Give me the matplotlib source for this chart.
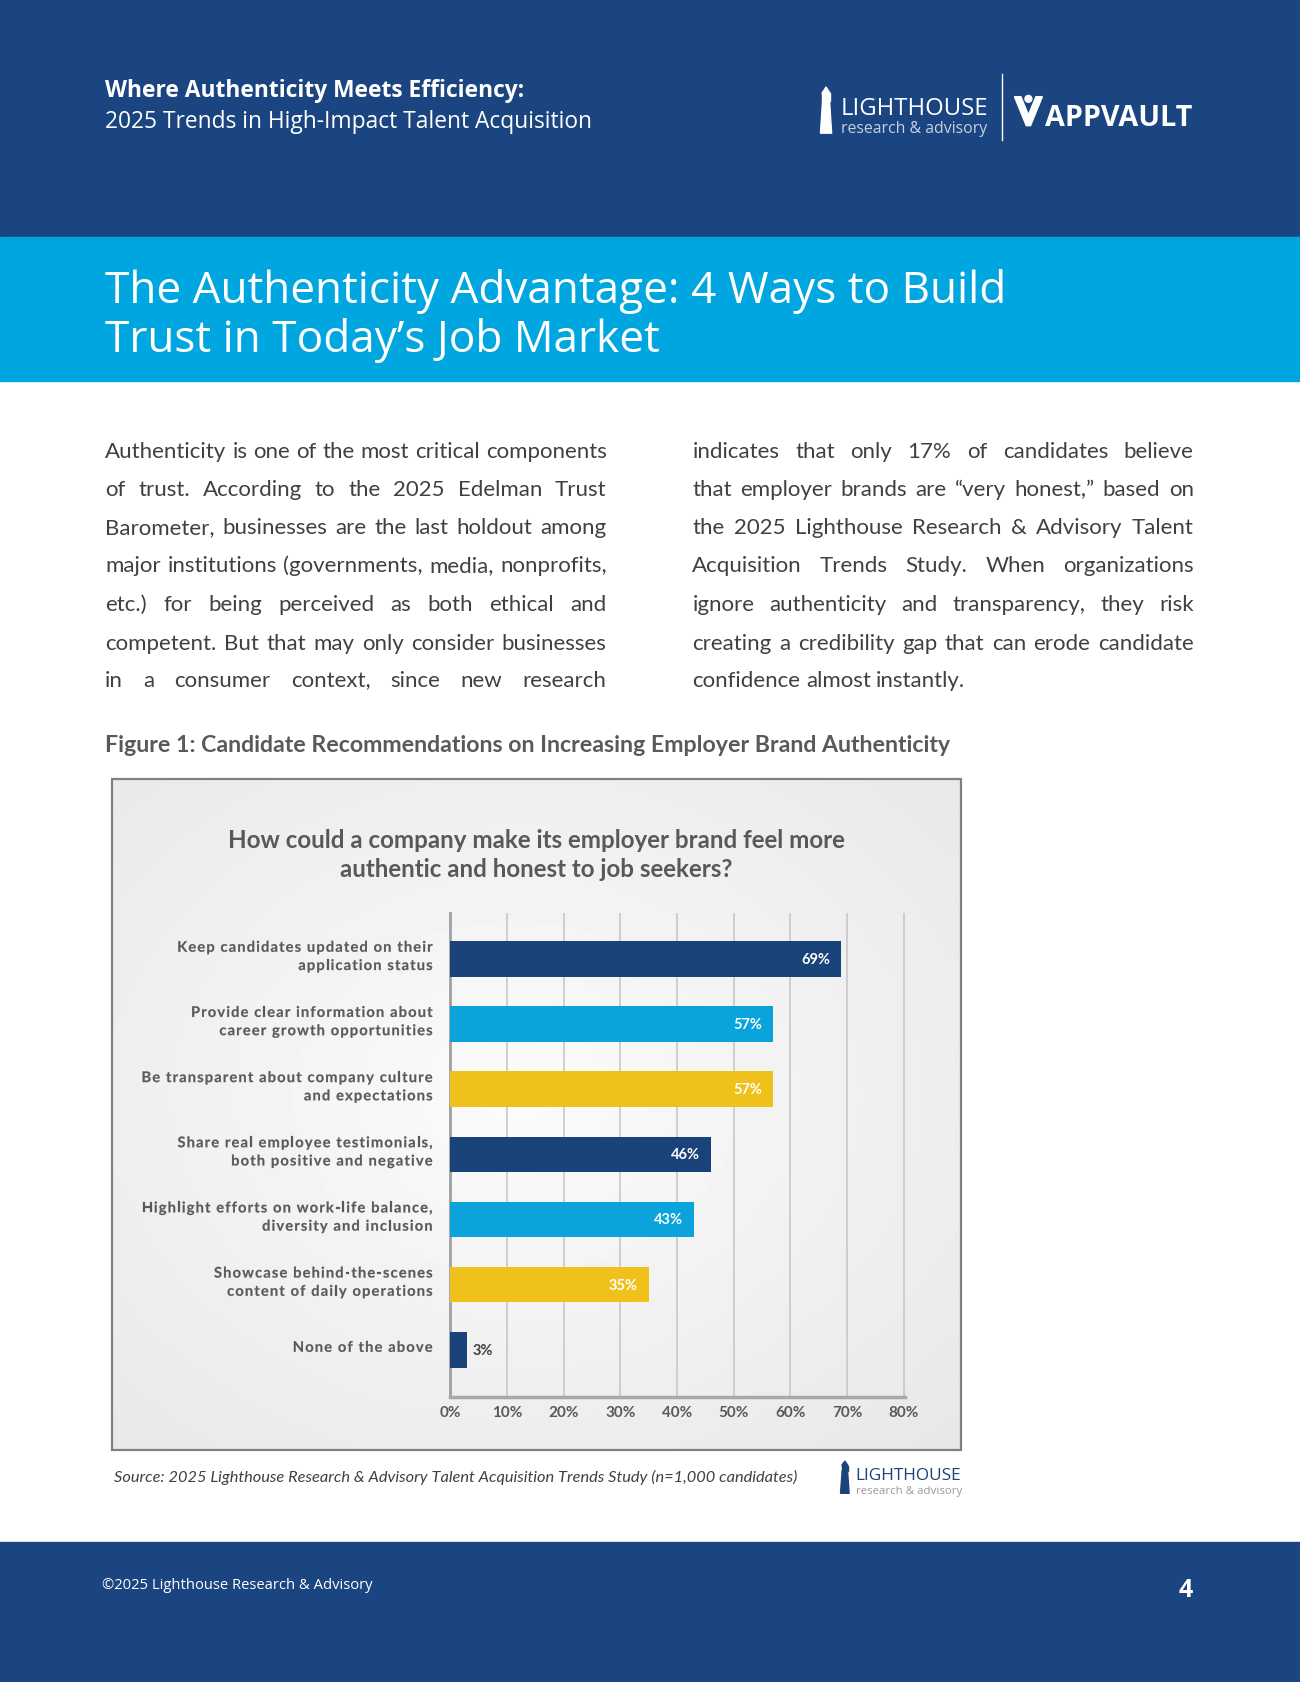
import numpy as np
import matplotlib
matplotlib.use("Agg")
import matplotlib.pyplot as plt
from matplotlib.patches import Rectangle, Polygon, Circle, PathPatch
from matplotlib.ft2font import FT2Font
from matplotlib.font_manager import findfont, FontProperties
from matplotlib.textpath import TextPath
from matplotlib.transforms import Affine2D

# ---------------- data ----------------
categories = [
    "Keep candidates updated on their\napplication status",
    "Provide clear information about\ncareer growth opportunities",
    "Be transparent about company culture\nand expectations",
    "Share real employee testimonials,\nboth positive and negative",
    "Highlight efforts on work-life balance,\ndiversity and inclusion",
    "Showcase behind-the-scenes\ncontent of daily operations",
    "None of the above",
]
values = [69, 57, 57, 46, 43, 35, 3]
value_labels = ["69%", "57%", "57%", "46%", "43%", "35%", "3%"]
xticks = [0, 10, 20, 30, 40, 50, 60, 70, 80]
xtick_labels = ["0%", "10%", "20%", "30%", "40%", "50%", "60%", "70%", "80%"]

NAVY = "#1a4379"
CYAN = "#0aa3dc"
YELLOW = "#f0c01b"
bar_colors = [NAVY, CYAN, YELLOW, NAVY, CYAN, YELLOW, NAVY]

chart_title = ["How could a company make its employer brand feel more",
               "authentic and honest to job seekers?"]
body_left = [
    "Authenticity is one of the most critical components",
    "of trust. According to the 2025 Edelman Trust",
    "Barometer, businesses are the last holdout among",
    "major institutions (governments, media, nonprofits,",
    "etc.) for being perceived as both ethical and",
    "competent. But that may only consider businesses",
    "in a consumer context, since new research",
]
body_right = [
    "indicates that only 17% of candidates believe",
    "that employer brands are \u201cvery honest,\u201d based on",
    "the 2025 Lighthouse Research & Advisory Talent",
    "Acquisition Trends Study. When organizations",
    "ignore authenticity and transparency, they risk",
    "creating a credibility gap that can erode candidate",
    "confidence almost instantly.",
]

# ---------------- figure ----------------
W, H = 1300, 1683
DPI = 100
S = 1300 / 1211.0  # reference-view to pixel scale
PX = DPI / 72.0

HEADER = "#1b4580"
BAND = "#00a6df"

fig = plt.figure(figsize=(W / DPI, H / DPI), dpi=DPI)
bg = fig.add_axes([0, 0, 1, 1])
bg.set_xlim(0, W)
bg.set_ylim(H, 0)
bg.axis("off")
r = fig.canvas.get_renderer()

_cache = {}


def measure(t):
    return t.get_window_extent(renderer=r).width


def str_width(s, size, **kw):
    key = (s, size, tuple(sorted(kw.items())))
    if key not in _cache:
        t = bg.text(0, 0, s, fontsize=size, **kw)
        _cache[key] = measure(t)
        t.remove()
    return _cache[key]


def fit(x, y, s, w, size0=20, **kw):
    t = bg.text(x * S, y * S, s, fontsize=size0, **kw)
    t.set_fontsize(size0 * (w * S) / measure(t))
    return t


def justify(x0, x1, y, line, size, last=False, **kw):
    words = line.split(" ")
    base = y * S + 0.30 * size * PX
    ts = [bg.text(0, base, w, fontsize=size, ha="left", va="baseline", **kw) for w in words]
    widths = [measure(t) for t in ts]
    if last or len(words) == 1:
        gap = 0.24 * size * PX
    else:
        gap = ((x1 - x0) * S - sum(widths)) / (len(words) - 1)
    x = x0 * S
    for t, w in zip(ts, widths):
        t.set_x(x)
        x += w + gap


def advances(s, font):
    out = []
    for ch in s:
        g = font.load_char(ord(ch))
        out.append(g.linearHoriAdvance / 65536.0)
    return out


def tracked(xr, ybase, s, size, track, font, fp, color):
    """Letter-spaced text drawn as glyph outlines at exact sub-pixel positions."""
    adv = advances(s, font)
    total = sum(adv) + track * (len(s) - 1)
    x = xr - total
    size_px = size * PX
    for ch, a in zip(s, adv):
        if ch != " ":
            tp = TextPath((0, 0), ch, size=size_px, prop=fp)
            tr = Affine2D().scale(1, -1).translate(x, ybase) + bg.transData
            bg.add_patch(PathPatch(tp, facecolor=color, edgecolor=color, lw=0.15,
                                   transform=tr, zorder=4))
        x += a + track


# backgrounds
bg.add_patch(Rectangle((0, 0), W, 222 * S, color=HEADER, zorder=0))
bg.add_patch(Rectangle((0, 222 * S), W, 134 * S, color=BAND, zorder=0))
bg.add_patch(Rectangle((0, 1437 * S), W, H - 1437 * S, color=HEADER, zorder=0))

# header text
HF = "Open Sans"
fit(98, 85, "Where Authenticity Meets Efficiency:", 390, color="white",
    fontweight="bold", family=HF, va="center", ha="left")
fit(98, 114, "2025 Trends in High-Impact Talent Acquisition", 453, color="white",
    family=HF, va="center", ha="left")


def lighthouse_icon(x0, y0, x1, y1, color):
    w = x1 - x0
    h = y1 - y0
    tower = [(x0 + 0.1 * w, y1), (x1 - 0.1 * w, y1), (x1 - 0.25 * w, y0 + 0.3 * h),
             (x0 + 0.25 * w, y0 + 0.3 * h)]
    bg.add_patch(Polygon([(a * S, b * S) for a, b in tower], closed=True, color=color, zorder=3))
    bg.add_patch(Rectangle(((x0 + 0.2 * w) * S, (y0 + 0.14 * h) * S), 0.6 * w * S, 0.16 * h * S,
                           color=color, zorder=3))
    cap = [(x0 + 0.2 * w, y0 + 0.14 * h), (x1 - 0.2 * w, y0 + 0.14 * h), (x0 + 0.5 * w, y0)]
    bg.add_patch(Polygon([(a * S, b * S) for a, b in cap], closed=True, color=color, zorder=3))


lighthouse_icon(763, 82, 776, 125, "white")
fit(783, 102, "LIGHTHOUSE", 137, color="white", family=HF, va="center", ha="left")
fit(783, 120, "research & advisory", 136, color="#c5d0e4", family=HF, va="center", ha="left")
bg.plot([933 * S, 933 * S], [70 * S, 131 * S], color="white", lw=1, zorder=3)
v = [(945, 91), (951, 91), (958, 108), (965, 91), (971, 91), (960, 118), (956, 118)]
bg.add_patch(Polygon([(a * S, b * S) for a, b in v], closed=True, color="white", zorder=3))
bg.add_patch(Circle((958 * S, 93 * S), 3.2 * S, color="white", zorder=3))
fit(973, 110, "APPVAULT", 137, color="white", family=HF, fontweight="bold", va="center", ha="left")

# big title
t1 = fit(98, 272, "The Authenticity Advantage: 4 Ways to Build", 837, color="white",
         family=HF, fontweight="medium", va="center", ha="left")
bg.text(98 * S, 317 * S, "Trust in Today\u2019s Job Market", color="white", family=HF,
        fontweight="medium", va="center", ha="left", fontsize=t1.get_fontsize())

# body text
BF = "Lato"
BODY_C = "#404040"
body_size = 20 * (467 * S) / str_width(body_left[0], 20, family=BF)
line_ys = [420, 456, 491, 527, 563, 599, 634]
for ln, y in zip(body_left, line_ys):
    justify(98, 565, y, ln, body_size, color=BODY_C, family=BF)
for i, (ln, y) in enumerate(zip(body_right, line_ys)):
    justify(645, 1112, y, ln, body_size, last=(i == len(body_right) - 1), color=BODY_C, family=BF)

# figure caption
fit(98, 694, "Figure 1: Candidate Recommendations on Increasing Employer Brand Authenticity", 790,
    color="#595959", family=BF, fontweight="bold", va="center", ha="left")

# chart box with radial gradient
bx0, bx1, by0, by1 = 104 * S, 895 * S, 727 * S, 1352 * S
gx, gy = np.meshgrid(np.linspace(-1, 1, 240), np.linspace(-1, 1, 200))
rr = np.sqrt((gx + 0.05) ** 2 + (gy + 0.05) ** 2) / np.sqrt(2)
grad = 0.985 - 0.075 * np.clip(rr, 0, 1.2)
bg.imshow(grad, cmap="gray", vmin=0, vmax=1, extent=(bx0, bx1, by1, by0),
          interpolation="bicubic", aspect="auto", zorder=1)
bg.add_patch(Rectangle((bx0, by0), bx1 - bx0, by1 - by0, fill=False, edgecolor="#808080",
                       lw=1.6, zorder=2))
bg.set_xlim(0, W)
bg.set_ylim(H, 0)

# chart title
ct_size = 20 * (574 * S) / str_width(chart_title[0], 20, family=BF, fontweight="bold")
for ln, y in zip(chart_title, [783, 810]):
    bg.text(500 * S, y * S, ln, fontsize=ct_size, family=BF, fontweight="bold",
            color="#595959", ha="center", va="center", zorder=3)

# source + small logo
fit(106, 1376, "Source: 2025 Lighthouse Research & Advisory Talent Acquisition Trends Study (n=1,000 candidates)",
    637, color="#404040", family=BF, style="italic", va="center", ha="left")
lighthouse_icon(782, 1362, 792, 1392, NAVY)
fit(797, 1375, "LIGHTHOUSE", 99, color=NAVY, family=HF, va="center", ha="left")
fit(797, 1389, "research & advisory", 98, color="#9a9a9a", family=HF, va="center", ha="left")

# footer
fit(95, 1477, "\u00a92025 Lighthouse Research & Advisory", 252, color="white", family=HF,
    va="center", ha="left")
bg.text(1105 * S, 1482 * S, "4", color="white", family=HF, fontweight="bold", fontsize=18,
        ha="center", va="center")

# ---------------- bar chart ----------------
ax_l = 419.5 * S / W
ax_r = 843 * S / W
ax_t = 1 - 851 * S / H
ax_b = 1 - 1302 * S / H
ax = fig.add_axes([ax_l, ax_b, ax_r - ax_l, ax_t - ax_b])
ax.patch.set_alpha(0)
ypos = np.arange(len(values))
ax.barh(ypos, values, height=0.545, color=bar_colors, zorder=3)
ax.set_xlim(0, 80.2)
ax.set_ylim(6.72, -0.71)
ax.set_axisbelow(True)
ax.xaxis.grid(True, color="#c4c4c4", lw=1.1, zorder=0)
ax.set_yticks([])
ax.set_xticks(xticks)
ax.set_xticklabels(xtick_labels, fontweight="bold", color="#595959", fontsize=11, family=BF)
ax.tick_params(axis="x", length=0, pad=6)
for side in ["top", "right"]:
    ax.spines[side].set_visible(False)
ax.spines["left"].set_color("#a0a0a0")
ax.spines["left"].set_linewidth(2)
ax.spines["bottom"].set_color("#a8a8a8")
ax.spines["bottom"].set_linewidth(2.5)

for i, (v, lab) in enumerate(zip(values, value_labels)):
    if v >= 10:
        ax.annotate(lab, (v, i), xytext=(-8, 0), textcoords="offset points", ha="right",
                    va="center", color="white", fontweight="bold", fontsize=10.5, family=BF, zorder=4)
    else:
        ax.annotate(lab, (v, i), xytext=(4, 0), textcoords="offset points", ha="left",
                    va="center", color="#404040", fontweight="bold", fontsize=10.5, family=BF, zorder=4)

# category labels with letter spacing (drawn in page pixel space)
lab_size = 10.6
lab_fp = FontProperties(family=BF, weight="bold")
lab_font = FT2Font(findfont(lab_fp))
lab_font.set_size(lab_size, DPI)
first = categories[0].split("\n")[0]
nat = sum(advances(first, lab_font))
track = (238 * S - nat) / (len(first) - 1)
lab_xr = 403 * S
line_gap = 17 * S
for i, c in enumerate(categories):
    yc_disp = ax.transData.transform((0, i))[1]
    yc = H - yc_disp - 3 * S
    lines = c.split("\n")
    n = len(lines)
    for j, ln in enumerate(lines):
        ymid = yc + (j - (n - 1) / 2) * line_gap
        tracked(lab_xr, ymid + 0.36 * lab_size * PX, ln, lab_size, track, lab_font, lab_fp,
                "#595959")

fig.savefig("out.png", dpi=DPI)
